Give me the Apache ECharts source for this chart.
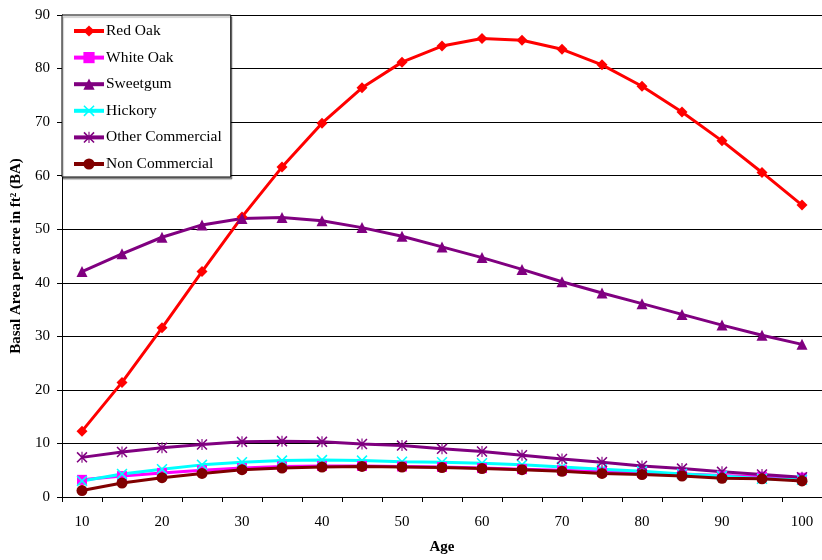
<!DOCTYPE html>
<html>
<head>
<meta charset="utf-8">
<script src="https://cdn.jsdelivr.net/npm/echarts@6/dist/echarts.min.js"></script>
<style>
  html, body { margin: 0; padding: 0; background: #fff; }
  #chart { width: 822px; height: 560px; }
</style>
</head>
<body>
<div id="chart"></div>
<script>
// Stand age in years
const ages = [10, 15, 20, 25, 30, 35, 40, 45, 50, 55, 60, 65, 70, 75, 80, 85, 90, 95, 100];

// Basal area per acre (ft²) by species group
const redOak          = [12.3, 21.4, 31.6, 42.1, 52.3, 61.6, 69.8, 76.4, 81.2, 84.2, 85.6, 85.3, 83.6, 80.7, 76.7, 71.9, 66.5, 60.6, 54.5];
const whiteOak        = [3.2, 3.9, 4.5, 5.0, 5.4, 5.7, 5.8, 5.8, 5.7, 5.6, 5.4, 5.2, 5.0, 4.7, 4.5, 4.3, 4.0, 3.8, 3.6];
const sweetgum        = [42.1, 45.4, 48.5, 50.8, 52.0, 52.2, 51.6, 50.3, 48.7, 46.7, 44.7, 42.5, 40.2, 38.1, 36.1, 34.1, 32.1, 30.2, 28.5];
const hickory         = [3.0, 4.3, 5.2, 6.0, 6.5, 6.8, 6.9, 6.8, 6.6, 6.5, 6.3, 6.0, 5.6, 5.2, 4.8, 4.3, 3.9, 3.4, 3.2];
const otherCommercial = [7.4, 8.4, 9.2, 9.8, 10.3, 10.4, 10.3, 9.9, 9.6, 9.0, 8.5, 7.8, 7.1, 6.5, 5.8, 5.3, 4.7, 4.2, 3.7];
const nonCommercial   = [1.2, 2.6, 3.6, 4.4, 5.1, 5.4, 5.6, 5.7, 5.6, 5.5, 5.3, 5.1, 4.8, 4.4, 4.2, 3.9, 3.5, 3.4, 3.0];

// Marker shapes: an "x" cross and an asterisk (x plus vertical bar)
const crossPath = 'path://M0,1 L1,0 L10,9 L9,10 Z M9,0 L10,1 L1,10 L0,9 Z';
const starPath  = 'path://M0,1 L1,0 L10,9 L9,10 Z M9,0 L10,1 L1,10 L0,9 Z M4.5,0 L5.5,0 L5.5,10 L4.5,10 Z';

const FONT = '"Liberation Serif", "Times New Roman", serif';

function makeSeries(name, data, color, symbol, size) {
  return {
    name: name,
    type: 'line',
    data: data,
    symbol: symbol,
    symbolSize: size,
    showAllSymbol: true,
    lineStyle: { color: color, width: 3 },
    itemStyle: { color: color, borderWidth: 0 },
    emphasis: { disabled: true },
    animation: false
  };
}

const chart = echarts.init(document.getElementById('chart'));
chart.setOption({
  backgroundColor: '#fff',
  textStyle: { fontFamily: FONT },
  grid: { left: 62, right: 0, top: 15, bottom: 61, containLabel: false },
  legend: {
    orient: 'vertical',
    left: 62,
    top: 15,
    padding: [8, 9, 5, 10],
    itemWidth: 30,
    itemHeight: 14,
    itemGap: 10.6,
    backgroundColor: '#fff',
    borderColor: '#000',
    borderWidth: 1,
    shadowColor: 'rgba(0,0,0,0.35)',
    shadowOffsetX: 1,
    shadowOffsetY: 2,
    shadowBlur: 1,
    lineStyle: { width: 4 },
    textStyle: { fontFamily: FONT, fontSize: 15.5, color: '#000', padding: [0, 0, 0, -3] },
    data: ['Red Oak', 'White Oak', 'Sweetgum', 'Hickory', 'Other Commercial', 'Non Commercial']
  },
  xAxis: {
    type: 'category',
    data: ages,
    boundaryGap: true,
    name: 'Age',
    nameLocation: 'middle',
    nameGap: 43,
    nameTextStyle: { fontFamily: FONT, fontSize: 15, fontWeight: 'bold', color: '#000' },
    axisLine: { lineStyle: { color: '#000', width: 1 } },
    axisTick: { show: true, interval: 0, length: 5, lineStyle: { color: '#000' } },
    axisLabel: { interval: 1, fontFamily: FONT, fontSize: 15, color: '#000', margin: 18 },
    splitLine: { show: false }
  },
  yAxis: {
    type: 'value',
    min: 0,
    max: 90,
    interval: 10,
    name: 'Basal Area per acre in ft² (BA)',
    nameLocation: 'middle',
    nameGap: 38,
    nameTextStyle: { fontFamily: FONT, fontSize: 15, fontWeight: 'bold', color: '#000' },
    axisLine: { show: true, lineStyle: { color: '#000', width: 1 } },
    axisTick: { show: true, length: 5, lineStyle: { color: '#000' } },
    axisLabel: { fontFamily: FONT, fontSize: 15, color: '#000', margin: 12 },
    splitLine: { show: true, lineStyle: { color: '#000', width: 1 } }
  },
  series: [
    makeSeries('Red Oak', redOak, '#FF0000', 'diamond', 11),
    makeSeries('White Oak', whiteOak, '#FF00FF', 'rect', 10),
    makeSeries('Sweetgum', sweetgum, '#800080', 'triangle', 11),
    makeSeries('Hickory', hickory, '#00FFFF', crossPath, 11),
    makeSeries('Other Commercial', otherCommercial, '#800080', starPath, 11),
    makeSeries('Non Commercial', nonCommercial, '#800000', 'circle', 11)
  ]
});
</script>
</body>
</html>
